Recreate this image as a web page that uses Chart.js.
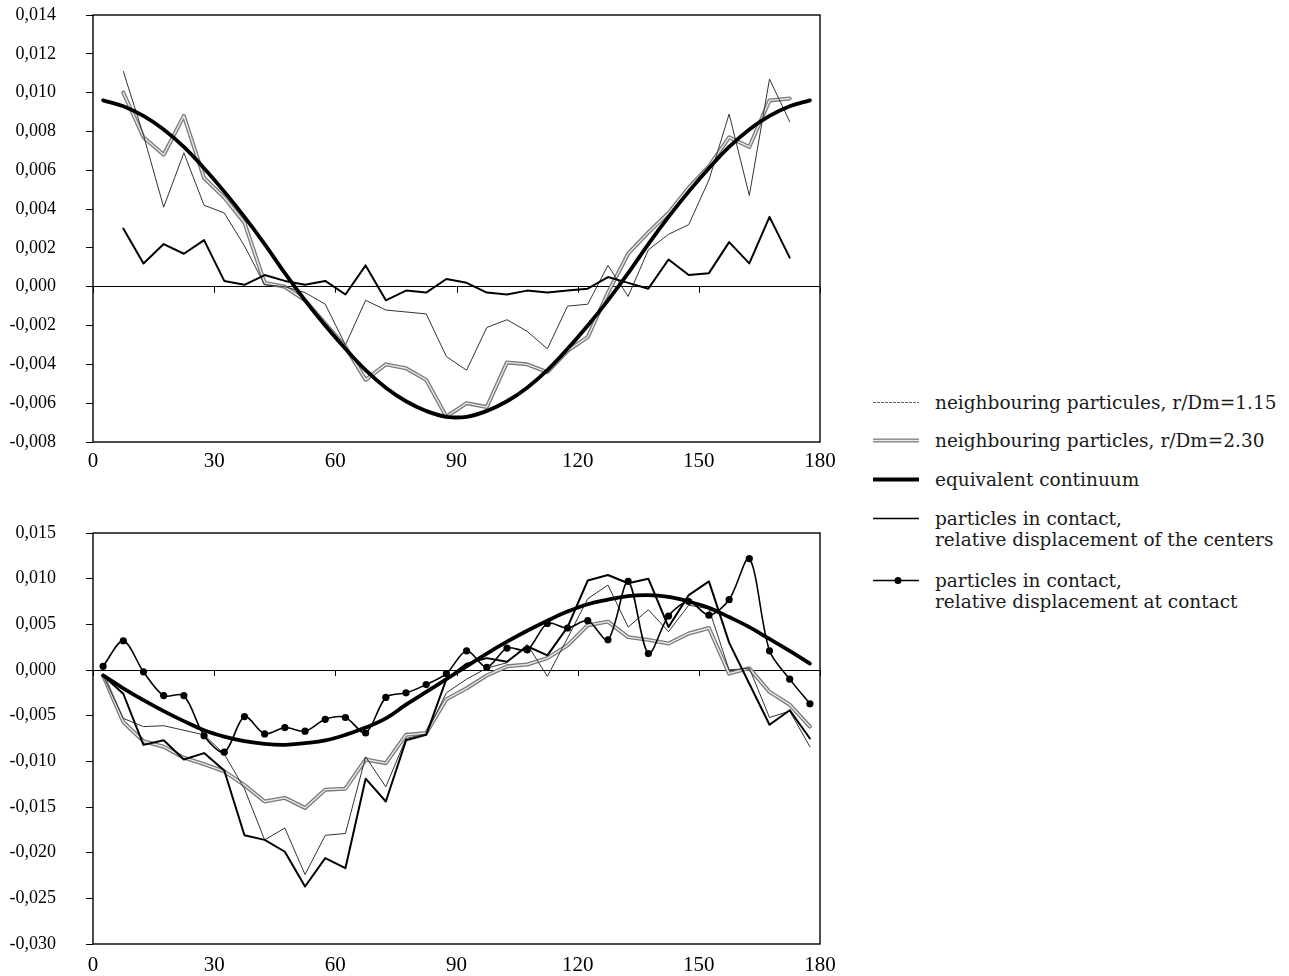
<!DOCTYPE html>
<html>
<head>
<meta charset="utf-8">
<script src="https://cdn.jsdelivr.net/npm/chart.js@4.4.1/dist/chart.umd.min.js"></script>
<style>
  body { margin: 0; background: #fff; width: 1289px; height: 976px; position: relative; overflow: hidden; }
  canvas { position: absolute; left: 0; }
  #top { top: 0; }
  #bottom { top: 490px; }
  .legend { position: absolute; left: 873px; top: 0; font-family: "DejaVu Serif", serif; font-size: 18.5px; color: #1a1a1a; }
  .row { position: absolute; left: 0; white-space: nowrap; }
  .row svg { position: absolute; left: 0; top: 0; }
  .row span { position: absolute; left: 62px; top: 0; line-height: 21px; }
</style>
</head>
<body>
<canvas id="top" width="840" height="490"></canvas>
<canvas id="bottom" width="840" height="486"></canvas>

<div class="legend">
  <div class="row" style="top:392px">
    <svg width="46" height="21"><line x1="0" y1="10.5" x2="46" y2="10.5" stroke="#666" stroke-width="1" stroke-dasharray="3 1"/></svg>
    <span>neighbouring particules, r/Dm=1.15</span>
  </div>
  <div class="row" style="top:430px">
    <svg width="46" height="21"><line x1="0" y1="10.5" x2="46" y2="10.5" stroke="#7a7a7a" stroke-width="4"/><line x1="0" y1="10.5" x2="46" y2="10.5" stroke="#e8e8e8" stroke-width="1.4"/></svg>
    <span>neighbouring particles, r/Dm=2.30</span>
  </div>
  <div class="row" style="top:469px">
    <svg width="46" height="21"><line x1="0" y1="10.5" x2="46" y2="10.5" stroke="#000" stroke-width="4"/></svg>
    <span>equivalent continuum</span>
  </div>
  <div class="row" style="top:508px">
    <svg width="46" height="21"><line x1="0" y1="10.5" x2="46" y2="10.5" stroke="#000" stroke-width="1.3"/></svg>
    <span>particles in contact,<br>relative displacement of the centers</span>
  </div>
  <div class="row" style="top:570px">
    <svg width="46" height="21"><line x1="0" y1="10.5" x2="46" y2="10.5" stroke="#000" stroke-width="1.5"/><circle cx="25" cy="10.5" r="3.5" fill="#000"/></svg>
    <span>particles in contact,<br>relative displacement at contact</span>
  </div>
</div>

<script>
const anglesTop = [7.5, 12.5, 17.5, 22.5, 27.5, 32.5, 37.5, 42.5, 47.5, 52.5, 57.5, 62.5, 67.5, 72.5, 77.5, 82.5, 87.5,
  92.5, 97.5, 102.5, 107.5, 112.5, 117.5, 122.5, 127.5, 132.5, 137.5, 142.5, 147.5, 152.5, 157.5, 162.5, 167.5, 172.5];
const anglesFull = [2.5, 7.5, 12.5, 17.5, 22.5, 27.5, 32.5, 37.5, 42.5, 47.5, 52.5, 57.5, 62.5, 67.5, 72.5, 77.5, 82.5, 87.5,
  92.5, 97.5, 102.5, 107.5, 112.5, 117.5, 122.5, 127.5, 132.5, 137.5, 142.5, 147.5, 152.5, 157.5, 162.5, 167.5, 172.5, 177.5];

const xTicks = [0, 30, 60, 90, 120, 150, 180];
const yTicksTop = [-0.008, -0.006, -0.004, -0.002, 0, 0.002, 0.004, 0.006, 0.008, 0.010, 0.012, 0.014];
const yTicksBottom = [-0.030, -0.025, -0.020, -0.015, -0.010, -0.005, 0, 0.005, 0.010, 0.015];

// top panel
const fineTop = [0.0111, 0.0078, 0.0041, 0.0069, 0.0042, 0.0038, 0.0021, 0.0001, 0.0000, -0.0003, -0.0009, -0.0030,
  -0.0007, -0.0012, -0.0013, -0.0014, -0.0036, -0.0043, -0.0021, -0.0017, -0.0023, -0.0032, -0.0010, -0.0009,
  0.0011, -0.0005, 0.0019, 0.0027, 0.0032, 0.0055, 0.0089, 0.0047, 0.0107, 0.0085];
const wideTop = [0.0100, 0.0077, 0.0068, 0.0088, 0.0056, 0.0046, 0.0033, 0.0002, 0.0000, -0.0007, -0.0019, -0.0031,
  -0.0048, -0.0040, -0.0042, -0.0048, -0.0067, -0.0060, -0.0062, -0.0039, -0.0040, -0.0044, -0.0033, -0.0026,
  -0.0003, 0.0017, 0.0028, 0.0038, 0.0051, 0.0062, 0.0077, 0.0072, 0.0096, 0.0097];
const centersTop = [0.0030, 0.0012, 0.0022, 0.0017, 0.0024, 0.0003, 0.0001, 0.0006, 0.0003, 0.0001, 0.0003, -0.0004,
  0.0011, -0.0007, -0.0002, -0.0003, 0.0004, 0.0002, -0.0003, -0.0004, -0.0002, -0.0003, -0.0002, -0.0001,
  0.0005, 0.0002, -0.0001, 0.0014, 0.0006, 0.0007, 0.0023, 0.0012, 0.0036, 0.0015];
const continuumTop = [0.0096, 0.0093, 0.0088, 0.0081, 0.0072, 0.0061, 0.0049, 0.0036, 0.0022, 0.0007, -0.0007, -0.0020,
  -0.0032, -0.0043, -0.0052, -0.0059, -0.0064, -0.0067, -0.0067, -0.0064, -0.0059, -0.0052, -0.0043, -0.0032,
  -0.0020, -0.0007, 0.0007, 0.0022, 0.0036, 0.0049, 0.0061, 0.0072, 0.0081, 0.0088, 0.0093, 0.0096];

// bottom panel
const fineBottom = [-0.0006, -0.0053, -0.0062, -0.0061, -0.0066, -0.0071, -0.0092, -0.0130, -0.0186, -0.0173, -0.0224,
  -0.0181, -0.0179, -0.0095, -0.0128, -0.0075, -0.0070, -0.0025, -0.0010, 0.0002, 0.0008, 0.0028, -0.0007, 0.0035,
  0.0078, 0.0093, 0.0047, 0.0066, 0.0042, 0.0071, 0.0067, 0.0000, 0.0002, -0.0052, -0.0045, -0.0084];
const wideBottom = [-0.0006, -0.0057, -0.0078, -0.0084, -0.0096, -0.0103, -0.0111, -0.0126, -0.0144, -0.0140, -0.0151,
  -0.0131, -0.0130, -0.0098, -0.0102, -0.0071, -0.0069, -0.0032, -0.0020, -0.0006, 0.0004, 0.0006, 0.0013, 0.0027,
  0.0049, 0.0053, 0.0036, 0.0033, 0.0029, 0.0040, 0.0046, -0.0004, 0.0002, -0.0024, -0.0038, -0.0062];
const centersBottom = [-0.0006, -0.0026, -0.0082, -0.0077, -0.0098, -0.0091, -0.0110, -0.0181, -0.0186, -0.0199, -0.0237,
  -0.0206, -0.0217, -0.0119, -0.0144, -0.0077, -0.0071, -0.0010, 0.0007, 0.0013, 0.0009, 0.0026, 0.0016, 0.0047,
  0.0098, 0.0104, 0.0095, 0.0100, 0.0047, 0.0082, 0.0097, 0.0030, -0.0015, -0.0060, -0.0044, -0.0075];
const contactBottom = [0.0004, 0.0032, -0.0002, -0.0028, -0.0028, -0.0072, -0.0090, -0.0051, -0.0070, -0.0063, -0.0067,
  -0.0054, -0.0052, -0.0069, -0.0030, -0.0025, -0.0016, -0.0004, 0.0021, 0.0003, 0.0024, 0.0022, 0.0051, 0.0046,
  0.0054, 0.0033, 0.0097, 0.0018, 0.0059, 0.0075, 0.0060, 0.0077, 0.0122, 0.0021, -0.0010, -0.0037];
const continuumBottom = [-0.0006, -0.0020, -0.0033, -0.0045, -0.0056, -0.0066, -0.0073, -0.0078, -0.0081, -0.0082, -0.0080,
  -0.0077, -0.0071, -0.0063, -0.0053, -0.0038, -0.0024, -0.0010, 0.0004, 0.0018, 0.0031, 0.0043, 0.0054, 0.0064,
  0.0072, 0.0077, 0.0081, 0.0082, 0.0080, 0.0075, 0.0068, 0.0058, 0.0047, 0.0034, 0.0021, 0.0007];

const yFont = { family: "'Liberation Serif', serif", size: 18 };
const xFont = { family: "'Liberation Serif', serif", size: 21 };

function pts(xs, ys) {
  return ys.map((y, i) => ({ x: xs[i], y: y }));
}

function lineDs(data, color, width, order, extra) {
  return Object.assign({
    data: data,
    borderColor: color,
    borderWidth: width,
    pointRadius: 0,
    tension: 0,
    fill: false,
    order: order,
    borderJoinStyle: "round",
    borderCapStyle: "round",
  }, extra || {});
}

function fmt(v) {
  if (Math.abs(v) < 1e-9) return "0,000";
  return (v < 0 ? "-" : "") + Math.abs(v).toFixed(3).replace(".", ",");
}

const frame = {
  id: "frame",
  afterDatasetsDraw(chart) {
    const { ctx, chartArea: a, scales } = chart;
    const y0 = scales.y.getPixelForValue(0);
    ctx.save();
    ctx.strokeStyle = "#000";
    ctx.lineWidth = 1;
    ctx.beginPath();
    xTicks.forEach((v) => {
      const px = Math.round(scales.x.getPixelForValue(v)) + 0.5;
      ctx.moveTo(px, y0);
      ctx.lineTo(px, y0 + 6);
    });
    ctx.stroke();
    ctx.lineWidth = 1.4;
    ctx.strokeRect(a.left, a.top, a.right - a.left, a.bottom - a.top);
    ctx.restore();
  },
};

function options(yTicks, padTop, xHeight, labelPad) {
  return {
    responsive: false,
    animation: false,
    devicePixelRatio: 1,
    layout: { padding: { top: padTop, right: 20, left: 0, bottom: 0 } },
    plugins: { legend: { display: false }, tooltip: { enabled: false } },
    scales: {
      x: {
        type: "linear",
        min: 0,
        max: 180,
        afterBuildTicks: (s) => { s.ticks = xTicks.map((v) => ({ value: v })); },
        afterFit: (s) => { s.height = xHeight; s.paddingLeft = 0; s.paddingRight = 0; },
        grid: { display: false, drawTicks: false },
        border: { display: false },
        ticks: { font: xFont, color: "#000", padding: labelPad, maxRotation: 0, autoSkip: false, callback: (v) => String(v) },
      },
      y: {
        type: "linear",
        min: yTicks[0],
        max: yTicks[yTicks.length - 1],
        afterBuildTicks: (s) => { s.ticks = yTicks.map((v) => ({ value: v })); },
        afterFit: (s) => { s.width = 93; s.paddingTop = 0; s.paddingBottom = 0; },
        grid: {
          color: (c) => (c.tick && Math.abs(c.tick.value) < 1e-9 ? "#000" : "rgba(0,0,0,0)"),
          tickColor: "#000",
          tickLength: 7,
          lineWidth: 1,
        },
        border: { display: false },
        ticks: { font: yFont, color: "#000", padding: 30, autoSkip: false, callback: (v) => fmt(v) },
      },
    },
  };
}

new Chart(document.getElementById("top"), {
  type: "line",
  data: {
    datasets: [
      lineDs(pts(anglesFull, continuumTop), "#000", 3.8, 1, { tension: 0.4 }),
      lineDs(pts(anglesTop, centersTop), "#000", 2, 2),
      lineDs(pts(anglesTop, fineTop), "#333", 1, 3),
      lineDs(pts(anglesTop, wideTop), "#e8e8e8", 1.4, 4),
      lineDs(pts(anglesTop, wideTop), "#7a7a7a", 4, 5),
    ],
  },
  options: options(yTicksTop, 15, 48, 7),
  plugins: [frame],
});

new Chart(document.getElementById("bottom"), {
  type: "line",
  data: {
    datasets: [
      lineDs(pts(anglesFull, contactBottom), "#000", 1.6, 0, {
        tension: 0.3, pointRadius: 3.6, pointBackgroundColor: "#000", pointBorderWidth: 0,
      }),
      lineDs(pts(anglesFull, continuumBottom), "#000", 3.8, 1, { tension: 0.4 }),
      lineDs(pts(anglesFull, centersBottom), "#000", 2, 2),
      lineDs(pts(anglesFull, fineBottom), "#333", 1, 3),
      lineDs(pts(anglesFull, wideBottom), "#e8e8e8", 1.4, 4),
      lineDs(pts(anglesFull, wideBottom), "#7a7a7a", 4, 5),
    ],
  },
  options: options(yTicksBottom, 43, 32, 9),
  plugins: [frame],
});
</script>
</body>
</html>
